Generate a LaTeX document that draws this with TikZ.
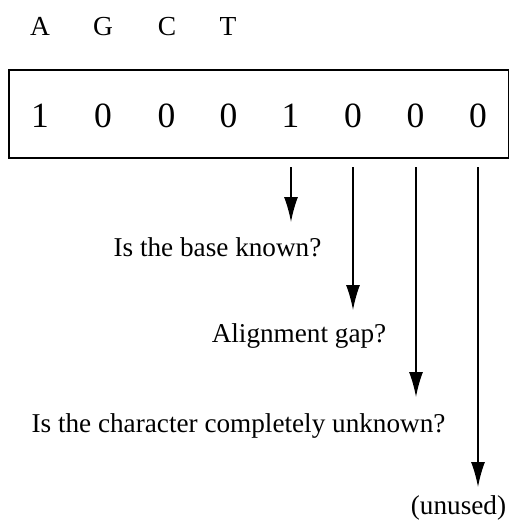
\documentclass[tikz,border=0pt]{standalone}
\usepackage{fontspec}
\setmainfont{Liberation Serif}
\usetikzlibrary{arrows.meta}
\begin{document}
\begin{tikzpicture}[x=1pt,y=-1pt,
  lbl/.style={font=\fontsize{27.5}{30}\selectfont, anchor=base, inner sep=0pt},
  dig/.style={font=\fontsize{35.5}{40}\selectfont, anchor=base, inner sep=0pt},
  txt/.style={font=\fontsize{27.2}{30}\selectfont, anchor=base, inner sep=0pt},
  arr/.style={line width=1.4pt, -{Latex[length=25pt,width=14pt]}},
  boxline/.style={draw, line width=1.4pt}]
\useasboundingbox (0,0) rectangle (509,523);
% letters
\foreach \l/\x [count=\i] in {A/40,G/103,C/167,T/228}
  \node[lbl] (l\i) at (\x,35.5) {\l};
% box
\node[boxline, minimum width=500pt, minimum height=88pt, inner sep=0pt] (box) at (258.8,114) {};
% digits
\foreach \d/\x [count=\i] in {1/40,0/103,0/166.5,0/228.5,1/290.5,0/353,0/415.5,0/478}
  \node[dig] (d\i) at (\x,127) {\d};
% labels
\node[txt] (q1) at (217.5,256) {Is the base known?};
\node[txt] (q2) at (299,342) {Alignment gap?};
\node[txt] (q3) at (238.5,432) {Is the character completely unknown?};
\node[txt] (q4) at (458.5,514) {(unused)};
% arrows
\coordinate (s1) at (291,167); \coordinate (e1) at (291,222);
\coordinate (s2) at (353,167); \coordinate (e2) at (353,310);
\coordinate (s3) at (416,167); \coordinate (e3) at (416,397);
\coordinate (s4) at (478,167); \coordinate (e4) at (478,487);
\foreach \i in {1,2,3,4} \draw[arr] (s\i) -- (e\i);
\end{tikzpicture}
\end{document}
